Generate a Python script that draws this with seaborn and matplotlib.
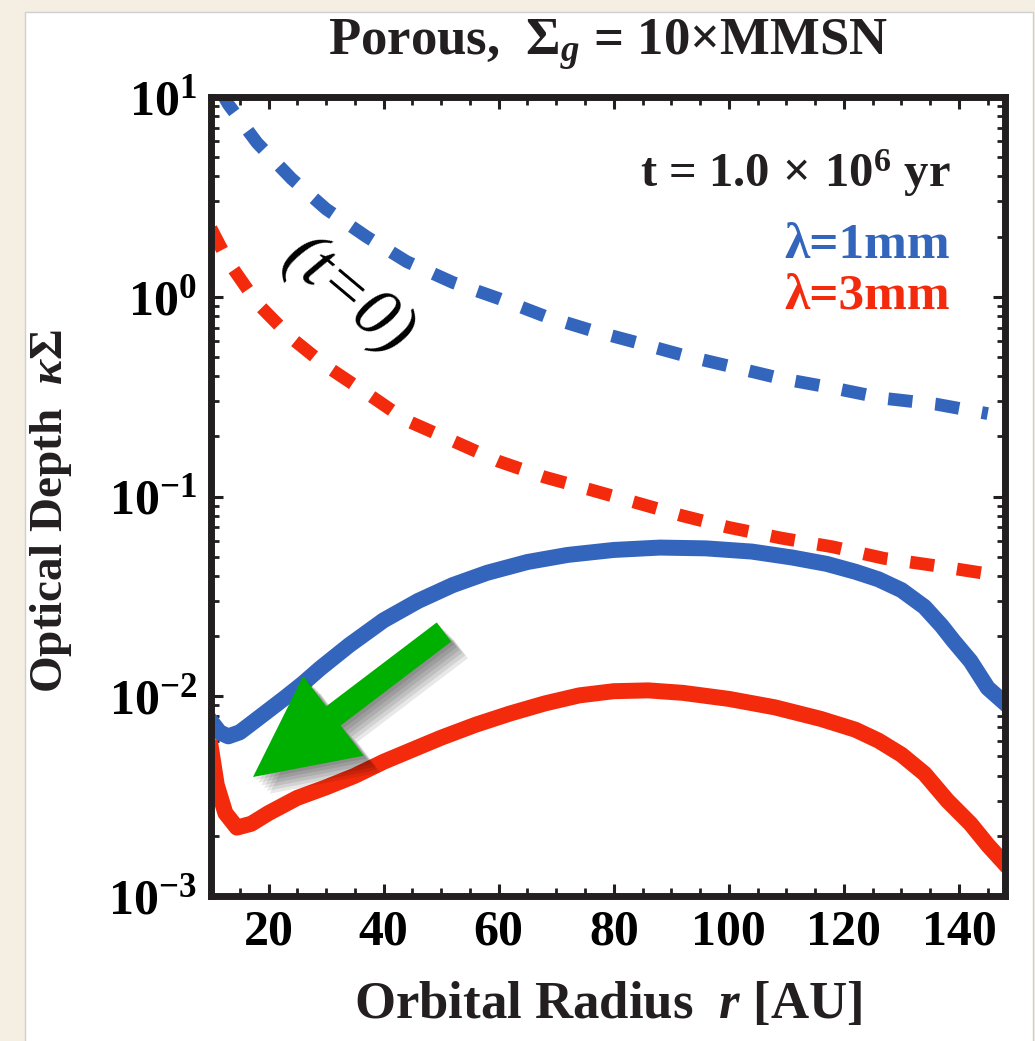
import numpy as np
import pandas as pd
import matplotlib
matplotlib.use('Agg')
import matplotlib.pyplot as plt
import matplotlib.patches as mpatches
import matplotlib.patheffects as pe
from matplotlib.transforms import IdentityTransform
from matplotlib.ticker import MultipleLocator, LogLocator, NullFormatter
import seaborn as sns

# Data
# initial profiles (t=0), dashed
r_t0 = [10, 13, 18, 24, 30, 37, 44, 52, 60, 68, 76, 84, 92, 100, 109, 118, 127, 136, 145]
tau_1mm_t0 = [13.0, 9.2, 5.9, 3.9, 2.75, 2.0, 1.5, 1.18, 0.98, 0.80, 0.68, 0.59, 0.51,
              0.45, 0.39, 0.35, 0.31, 0.29, 0.26]
tau_3mm_t0 = [2.2, 1.5, 0.93, 0.62, 0.45, 0.33, 0.24, 0.19, 0.15, 0.125, 0.108, 0.093,
              0.080, 0.070, 0.062, 0.056, 0.049, 0.045, 0.041]

# after 1 Myr, solid
r_1mm = [10, 11.5, 13, 15, 17, 20, 23, 26, 29, 34, 40, 46, 52, 58, 65, 72, 80, 88, 96,
         104, 111, 117, 122, 126, 130, 134, 137, 139, 142, 145, 147.5]
tau_1mm = [0.0075, 0.0066, 0.0063, 0.0066, 0.0073, 0.0085, 0.0099, 0.0116, 0.0138, 0.018,
           0.024, 0.030, 0.036, 0.0415, 0.047, 0.051, 0.054, 0.0555, 0.055, 0.053, 0.0495,
           0.046, 0.042, 0.0385, 0.034, 0.028, 0.0225, 0.019, 0.015, 0.011, 0.0095]
r_3mm = [10, 11, 12.5, 14.5, 17, 20, 25, 30, 35, 40, 45, 50, 56, 62, 68, 74, 80, 86, 92,
         100, 108, 116, 122, 126, 130, 134, 138, 142, 145, 147.5]
tau_3mm = [0.0055, 0.0036, 0.0026, 0.0022, 0.0023, 0.0026, 0.0031, 0.0035, 0.0040,
           0.0047, 0.0054, 0.0062, 0.0072, 0.0082, 0.0092, 0.0101, 0.0106, 0.0107, 0.0104,
           0.0097, 0.0088, 0.0077, 0.0068, 0.0060, 0.0051, 0.0041, 0.0030, 0.0023, 0.0018,
           0.0015]

x_ticks = [20, 40, 60, 80, 100, 120, 140]
y_ticks = [1e-3, 1e-2, 1e-1, 1e0, 1e1]
y_ticklabels = [r'$10^{-3}$', r'$10^{-2}$', r'$10^{-1}$', r'$10^{0}$', r'$10^{1}$']

BLUE = '#3465bd'
RED = '#f42a0c'
DARK = '#231f20'

# Style
plt.rcParams['font.family'] = ['Liberation Serif', 'DejaVu Serif']
plt.rcParams['font.weight'] = 'bold'
plt.rcParams['mathtext.fontset'] = 'custom'
plt.rcParams['mathtext.rm'] = 'Liberation Serif:bold'
plt.rcParams['mathtext.bf'] = 'Liberation Serif:bold'
plt.rcParams['mathtext.it'] = 'Liberation Serif:bold:italic'

W, H = 1035, 1041
fig = plt.figure(figsize=(W / 100, H / 100), dpi=100)
fig.patch.set_facecolor('#f4efe2')
# white panel behind everything
fig.add_artist(mpatches.Rectangle((25, -5), 1008, H - 12 + 5, transform=IdentityTransform(),
                                  facecolor='white', edgecolor='#cfcfcf', lw=1, zorder=-5))

left, right, top, bottom = 211, 1005, 97, 896
ax = fig.add_axes([left / W, (H - bottom) / H, (right - left) / W, (bottom - top) / H])
ax.set_facecolor('white')

df_t0 = pd.DataFrame({'r': r_t0, '1mm': tau_1mm_t0, '3mm': tau_3mm_t0})
df_1 = pd.DataFrame({'r': r_1mm, 'tau': tau_1mm})
df_3 = pd.DataFrame({'r': r_3mm, 'tau': tau_3mm})

sns.lineplot(data=df_t0, x='r', y='1mm', ax=ax, color=BLUE, lw=9.2,
             linestyle=(2.1, (1.9, 1.8)))
sns.lineplot(data=df_t0, x='r', y='3mm', ax=ax, color=RED, lw=9.2,
             linestyle=(0, (1.9, 1.8)))
sns.lineplot(data=df_1, x='r', y='tau', ax=ax, color=BLUE, lw=11.5, solid_joinstyle='round')
sns.lineplot(data=df_3, x='r', y='tau', ax=ax, color=RED, lw=11.5, solid_joinstyle='round')

ax.set_yscale('log')
ax.set_xlim(10, 148)
ax.set_ylim(1e-3, 1e1)
ax.set_xticks(x_ticks)
ax.set_xticklabels([str(v) for v in x_ticks])
ax.set_yticks(y_ticks)
ax.set_yticklabels(y_ticklabels)
ax.xaxis.set_minor_locator(MultipleLocator(5))
ax.yaxis.set_minor_locator(LogLocator(base=10, subs=np.arange(2, 10)))
ax.yaxis.set_minor_formatter(NullFormatter())
ax.tick_params(which='both', direction='in', top=True, right=True, color=DARK,
               labelsize=36, pad=10)
ax.tick_params(which='major', length=8.5, width=2.2)
ax.tick_params(which='minor', length=5.5, width=2.0)
for s in ax.spines.values():
    s.set_linewidth(5)
    s.set_color(DARK)

ax.set_xlabel(r'Orbital Radius  $r$ [AU]', fontsize=38, fontweight='bold', color=DARK)
ax.set_ylabel(r'Optical Depth  $\kappa\Sigma$', fontsize=34, fontweight='bold', color=DARK)
ax.xaxis.set_label_coords(0.5, -0.106)
ax.yaxis.set_label_coords(-0.172, 0.482)
ax.text(0.5, 1.053, r'Porous,  $\Sigma_g$ = 10×MMSN', transform=ax.transAxes,
        ha='center', va='baseline', fontsize=38, color=DARK)

ax.text(0.931, 0.887, r't = 1.0$\,\times\,$10$^{6}$ yr', transform=ax.transAxes,
        ha='right', va='baseline', fontsize=35, color=DARK)
ax.text(0.931, 0.7985, 'λ=1mm', transform=ax.transAxes, ha='right', va='baseline',
        fontsize=37, color=BLUE)
ax.text(0.931, 0.7359, 'λ=3mm', transform=ax.transAxes, ha='right', va='baseline',
        fontsize=37, color=RED)
ax.text((347 - left) / (right - left), (bottom - 297) / (bottom - top), '(t=0)',
        transform=ax.transAxes, ha='center', va='center', rotation=-40,
        fontsize=50, fontweight='normal', fontstyle='italic', color='black')

# green arrow (pixel coordinates), soft drop shadow
arrow = mpatches.FancyArrow(444, H - 632, -191, -145, width=24, head_width=100,
                            head_length=101, length_includes_head=True,
                            transform=IdentityTransform(), facecolor='#00b000',
                            edgecolor='none', zorder=10)
shadows = [pe.SimplePatchShadow(offset=(o, -o), shadow_rgbFace='black', alpha=0.09)
           for o in (2, 4, 6, 8, 10, 12)]
arrow.set_path_effects(shadows + [pe.Normal()])
fig.add_artist(arrow)

plt.savefig('out.png', dpi=100, facecolor=fig.get_facecolor())
plt.close()
